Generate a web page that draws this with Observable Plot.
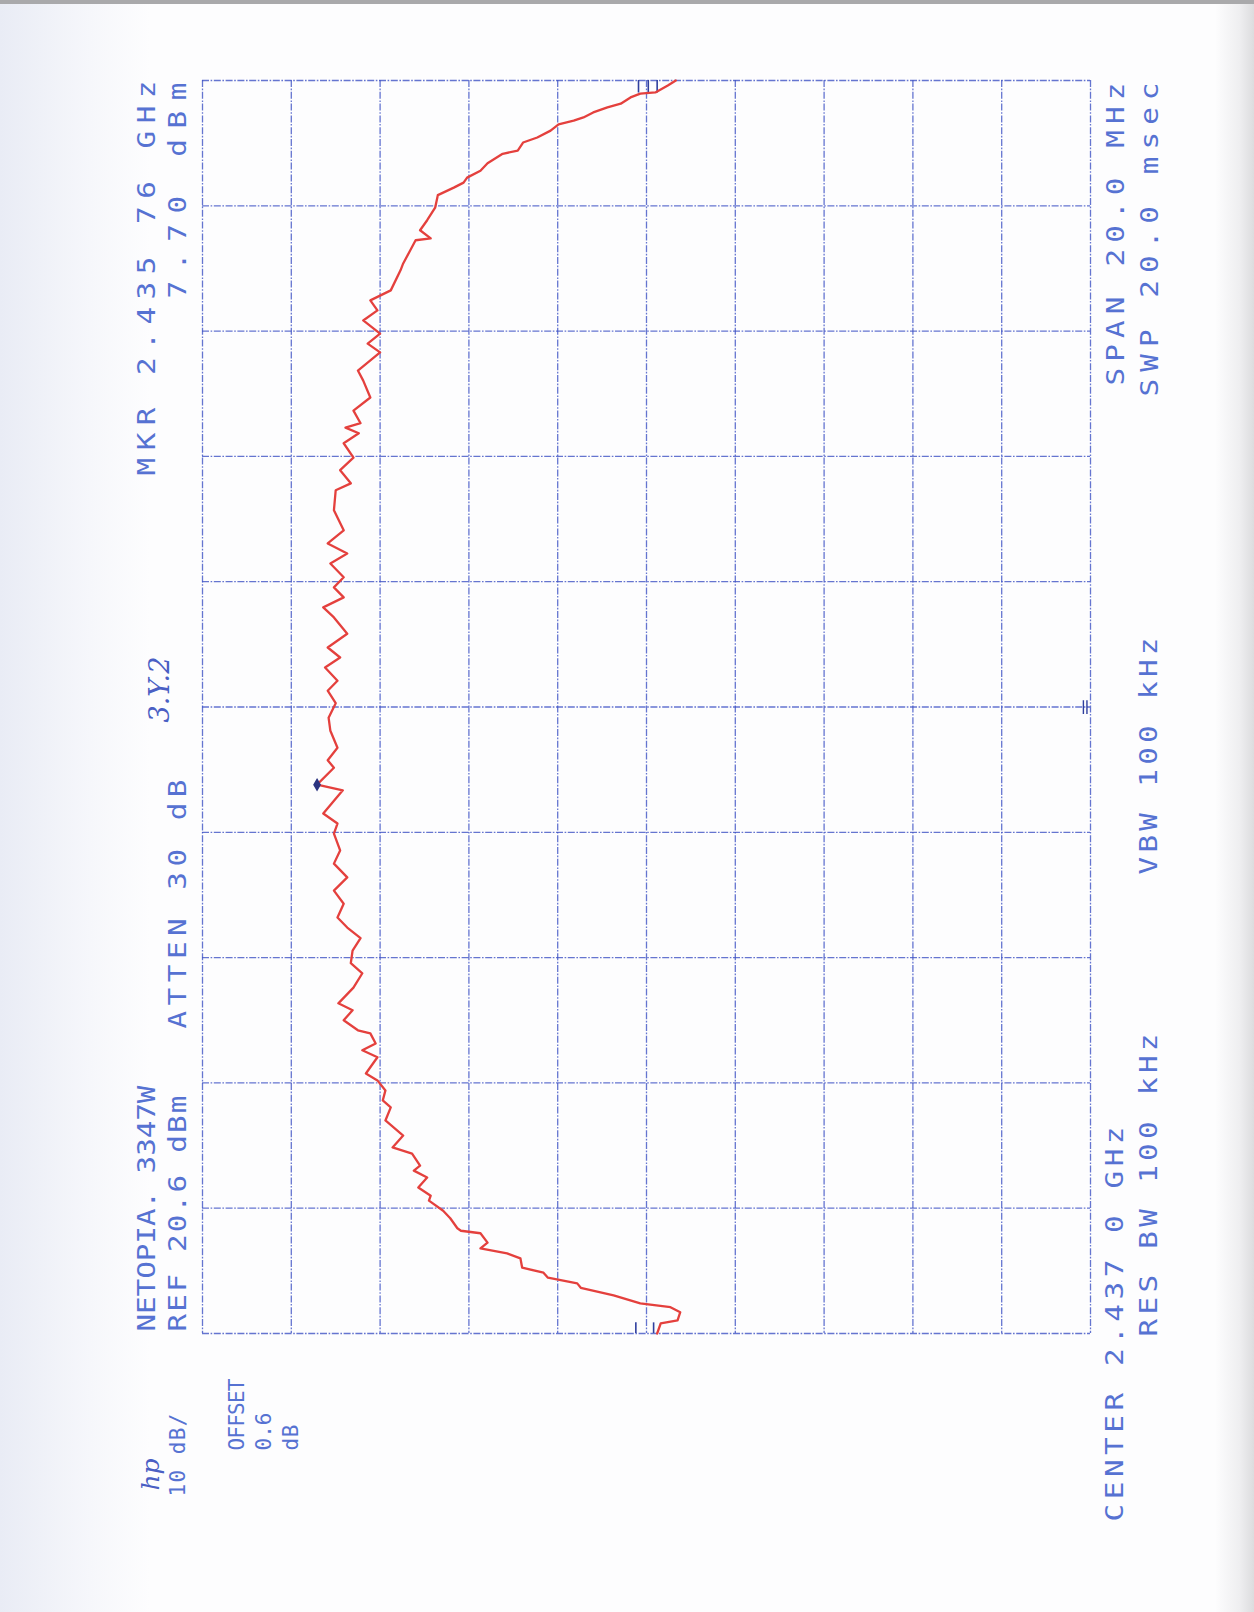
<!DOCTYPE html>
<html>
<head>
<meta charset="utf-8">
<script src="https://cdn.jsdelivr.net/npm/d3@7"></script>
<script src="https://cdn.jsdelivr.net/npm/@observablehq/plot@0.6"></script>
<style>
  html, body { margin: 0; padding: 0; }
  body { width: 1254px; height: 1612px; overflow: hidden;
    background: linear-gradient(to right, #e9ecf5 0px, #f6f7fb 90px, #fdfdfe 150px, #fdfdfe 1215px, #eeeef0 1240px, #dcdcde 1254px); }
  #page { position: relative; width: 1254px; height: 1612px; border-top: 4px solid #a9a9ab; box-sizing: border-box; }
  #chart { position: absolute; left: 0; top: -4px; }
</style>
</head>
<body>
<div id="page"><div id="chart"></div></div>
<script>
// ---- data: trace (frequency in MHz, level in dBm) ----
const freqMHz = [2427.00, 2427.16, 2427.21, 2427.34, 2427.42, 2427.48, 2427.61, 2427.73, 2427.80, 2427.89,
  2427.97, 2428.05, 2428.20, 2428.28, 2428.36, 2428.45, 2428.60, 2428.64, 2428.68, 2428.84,
  2428.96, 2429.12, 2429.20, 2429.33, 2429.49, 2429.60, 2429.68, 2429.87, 2429.97, 2430.16,
  2430.40, 2430.61, 2430.72, 2430.88, 2431.04, 2431.15, 2431.41, 2431.52, 2431.63, 2431.79,
  2431.84, 2432.00, 2432.16, 2432.27, 2432.52, 2432.75, 2432.91, 2433.11, 2433.31, 2433.48,
  2433.64, 2433.86, 2434.07, 2434.28, 2434.50, 2434.71, 2434.98, 2435.14, 2435.30, 2435.67,
  2435.76, 2436.03, 2436.15, 2436.35, 2436.62, 2436.83, 2437.06, 2437.26, 2437.42, 2437.63,
  2437.79, 2437.95, 2438.17, 2438.43, 2438.59, 2438.75, 2438.91, 2439.07, 2439.29, 2439.45,
  2439.61, 2439.82, 2440.14, 2440.46, 2440.57, 2440.78, 2440.98, 2441.21, 2441.37, 2441.46,
  2441.53, 2441.73, 2441.94, 2442.21, 2442.37, 2442.66, 2442.80, 2442.96, 2443.17, 2443.33,
  2443.49, 2443.65, 2443.97, 2444.08, 2444.29, 2444.45, 2444.48, 2444.61, 2444.77, 2444.97,
  2445.17, 2445.29, 2445.37, 2445.45, 2445.56, 2445.68, 2445.83, 2445.88, 2446.01, 2446.09,
  2446.20, 2446.30, 2446.36, 2446.41, 2446.49, 2446.57, 2446.63, 2446.73, 2446.79, 2446.81,
  2446.92, 2447.00];
const levelDbm = [-30.6, -31.0, -32.9, -33.2, -32.1, -28.7, -25.7, -22.0, -21.6, -18.3,
  -17.8, -15.4, -15.2, -13.7, -10.7, -11.5, -10.7, -8.5, -8.1, -7.3,
  -6.5, -4.9, -5.1, -3.7, -4.7, -3.2, -3.9, -3.0, -0.8, -2.0,
  0.0, -0.6, 0.3, 0.0, 0.9, 2.2, 0.9, 2.6, 1.1, 1.7,
  3.1, 4.7, 3.7, 5.3, 3.6, 2.6, 3.9, 3.7, 2.8, 4.3,
  5.4, 4.7, 5.8, 4.3, 5.8, 5.1, 5.8, 5.4, 7.0, 4.8,
  7.7, 5.8, 6.5, 5.4, 6.2, 6.4, 5.6, 6.5, 5.4, 6.8,
  5.1, 6.5, 4.3, 5.8, 7.0, 4.7, 5.8, 4.7, 6.2, 4.3,
  6.5, 4.7, 5.8, 5.6, 3.9, 5.1, 3.6, 4.7, 3.0, 4.5,
  2.8, 3.6, 1.7, 2.5, 3.1, 0.6, 2.0, 0.6, 2.5, 0.9,
  1.7, -0.6, -1.7, -2.0, -2.8, -3.4, -5.1, -3.9, -4.7, -5.6,
  -5.9, -7.7, -8.8, -9.2, -10.7, -11.5, -13.2, -14.9, -15.5, -17.1,
  -18.6, -19.5, -21.2, -22.3, -23.4, -25.0, -26.5, -27.6, -28.7, -30.4,
  -31.8, -32.7];

// marker
const markerFreq = [2435.76];
const markerLevel = [7.70];

// graticule: 10 dB/div from REF 20.6 dBm, 2 MHz/div across 20 MHz span
const ampTicks = [20.6, 10.6, 0.6, -9.4, -19.4, -29.4, -39.4, -49.4, -59.4, -69.4, -79.4];
const freqTicks = [2427, 2429, 2431, 2433, 2435, 2437, 2439, 2441, 2443, 2445, 2447];

// small edge tick marks drawn by the plotter
const topTickLevels = [-28.5, -29.6, -30.6];
const bottomTickLevels = [-28.2, -30.2];
const centerTickLevels = [-78.6, -79.0];

// annotation texts
const labels = ["NETOPIA. 3347W", "REF 20.6 dBm", "ATTEN 30 dB", "MKR 2.435 76 GHz", "7.70 dBm",
  "CENTER 2.437 0 GHz", "RES BW 100 kHz", "VBW 100 kHz", "SPAN 20.0 MHz", "SWP 20.0 msec"];
const sideLabels = ["10 dB/", "OFFSET", "0.6", "dB"];
const handLabels = ["3.Y.2", "hp"];

// ---- layout (pixel placement of annotations, kept apart from the data) ----
const M = {left: 202, right: 164, top: 80, bottom: 279};
const textLayout = [
  {x: 147, y: 1331, len: 246}, {x: 178, y: 1331, len: 236}, {x: 178, y: 1028, len: 249},
  {x: 147, y: 475, len: 395}, {x: 178, y: 298, len: 216},
  {x: 1115, y: 1521, len: 395}, {x: 1149, y: 1336, len: 303}, {x: 1149, y: 874, len: 237},
  {x: 1116, y: 385, len: 303}, {x: 1150, y: 396, len: 314}
];
const sideLayout = [
  {x: 178, y: 1496, len: 83}, {x: 237, y: 1450, len: 72}, {x: 264, y: 1450, len: 38}, {x: 291, y: 1450, len: 26}
];
const handLayout = [
  {x: 160, y: 722, size: 27},
  {x: 150, y: 1490, size: 25}
];
const GLYPH_STRETCH = 1.22;   // plotter glyphs are wider than DejaVu Sans Mono

const BLUE = "#3f52c4", TEXT = "#5672d2", RED = "#e4403d";
const gridStyle = {stroke: BLUE, strokeWidth: 1.3, strokeOpacity: 0.8, strokeDasharray: "7,1.6,1.6,1.6"};

const trace = freqMHz.map((f, i) => ({f, a: levelDbm[i]}));

const marks = [
  Plot.ruleX(ampTicks, gridStyle),
  Plot.ruleY(freqTicks, gridStyle),
  Plot.ruleX(topTickLevels, {y1: 2446.80, y2: 2447, stroke: "#2f3f9e", strokeWidth: 1.6}),
  Plot.ruleX(bottomTickLevels, {y1: 2427, y2: 2427.17, stroke: "#2f3f9e", strokeWidth: 1.6}),
  Plot.ruleX(centerTickLevels, {y1: 2436.88, y2: 2437.1, stroke: "#2f3f9e", strokeWidth: 1.4}),
  Plot.line(trace, {x: "a", y: "f", stroke: RED, strokeWidth: 2.3, strokeLinejoin: "round"}),
  Plot.dot(markerFreq.map((f, i) => ({f, a: markerLevel[i]})), {x: "a", y: "f", r: 3.2, fill: "#2c3480", stroke: "#2c3480", symbol: "diamond"})
];
const addText = (t, L, size, family, extra = {}) => marks.push(Plot.text([t], {text: d => d,
  frameAnchor: "top-left", dx: L.x - M.left, dy: L.y - M.top,
  rotate: -90, textAnchor: "start", lineAnchor: "middle", fill: TEXT, fontSize: size,
  fontFamily: family, ...extra}));
labels.forEach((t, i) => addText(t, textLayout[i], 24, "DejaVu Sans Mono"));
sideLabels.forEach((t, i) => addText(t, sideLayout[i], 21, "DejaVu Sans Mono"));
handLabels.forEach((t, i) => addText(t, handLayout[i], handLayout[i].size, "DejaVu Serif",
  {fontStyle: "italic", fill: "#4a5fc4"}));

const svg = Plot.plot({
  width: 1254, height: 1612,
  marginLeft: M.left, marginRight: M.right, marginTop: M.top, marginBottom: M.bottom,
  x: {domain: [20.6, -79.4], axis: null},
  y: {domain: [2427, 2447], axis: null},
  style: {background: "transparent", overflow: "visible"},
  marks
});

// spread the plotter lettering to its printed length
const headerLen = new Map(labels.map((t, i) => [t, textLayout[i].len]));
const sideLen = new Map(sideLabels.map((t, i) => [t, sideLayout[i].len]));
svg.querySelectorAll("text").forEach(el => {
  const t = el.textContent;
  if (headerLen.has(t)) {
    el.setAttribute("transform", (el.getAttribute("transform") || "") + ` scale(${GLYPH_STRETCH},1)`);
    el.setAttribute("textLength", headerLen.get(t) / GLYPH_STRETCH);
    el.setAttribute("lengthAdjust", "spacing");
  } else if (sideLen.has(t)) {
    el.setAttribute("textLength", sideLen.get(t));
    el.setAttribute("lengthAdjust", "spacing");
  }
});
document.getElementById("chart").appendChild(svg);
</script>
</body>
</html>
